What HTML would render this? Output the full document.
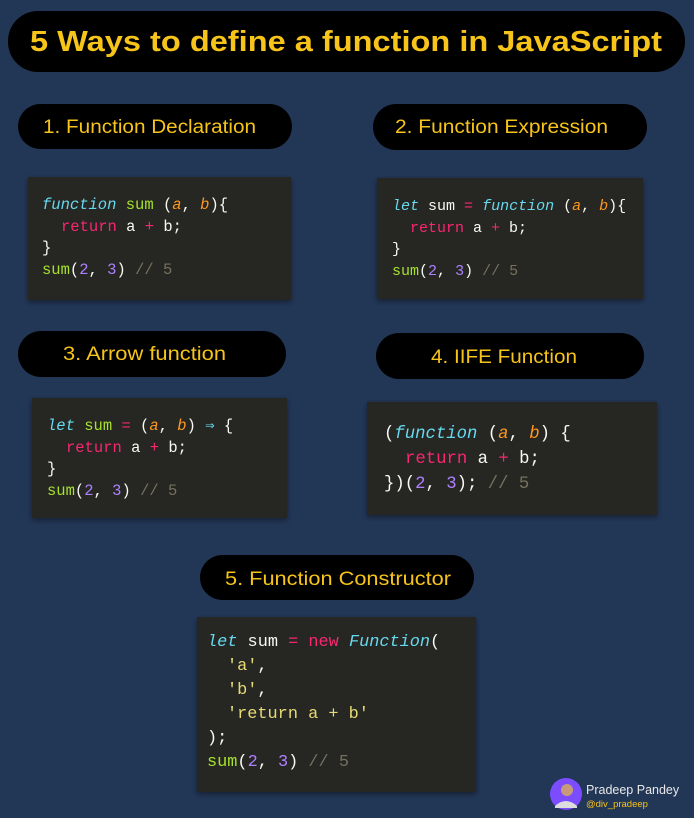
<!DOCTYPE html>
<html><head><meta charset="utf-8"><style>
html,body{margin:0;padding:0;background:#223656;}
svg{display:block}
.m{font-family:"Liberation Mono",monospace;white-space:pre}
.w{fill:#f8f8f2}.c{fill:#66d9ef;font-style:italic}.g{fill:#a6e22e}.o{fill:#fd971f;font-style:italic}
.p{fill:#f92672}.v{fill:#ae81ff}.y{fill:#e6db74}.k{fill:#75715e}.cy{fill:#66d9ef}
.h{font-family:"Liberation Sans",sans-serif;fill:#f7c41a}
</style></head><body>
<svg width="694" height="818" viewBox="0 0 694 818" xmlns="http://www.w3.org/2000/svg" xml:space="preserve">
<defs><filter id="s" x="-10%" y="-10%" width="120%" height="130%"><feDropShadow dx="0" dy="2" stdDeviation="3" flood-color="#000" flood-opacity="0.45"/></filter></defs>
<rect width="694" height="818" fill="#223656"/>
<rect x="8" y="11" width="677" height="61" rx="30" fill="#000"/>
<text class="h" x="346" y="51" text-anchor="middle" font-size="29" font-weight="bold" textLength="632" lengthAdjust="spacingAndGlyphs">5 Ways to define a function in JavaScript</text>
<rect x="18" y="104" width="274" height="45" rx="22.5" fill="#000"/>
<text class="h" x="43" y="133" font-size="19" textLength="213" lengthAdjust="spacingAndGlyphs">1. Function Declaration</text>
<rect x="373" y="104" width="274" height="46" rx="23" fill="#000"/>
<text class="h" x="395" y="133" font-size="19" textLength="213" lengthAdjust="spacingAndGlyphs">2. Function Expression</text>
<rect x="18" y="331" width="268" height="46" rx="23" fill="#000"/>
<text class="h" x="63" y="360" font-size="19" textLength="163" lengthAdjust="spacingAndGlyphs">3. Arrow function</text>
<rect x="376" y="333" width="268" height="46" rx="23" fill="#000"/>
<text class="h" x="431" y="363" font-size="19" textLength="146" lengthAdjust="spacingAndGlyphs">4. IIFE Function</text>
<rect x="200" y="555" width="274" height="45" rx="22.5" fill="#000"/>
<text class="h" x="225" y="585" font-size="19" textLength="226" lengthAdjust="spacingAndGlyphs">5. Function Constructor</text>
<rect x="28" y="177" width="263" height="123" fill="#272822" filter="url(#s)"/>
<g class="m" font-size="15.5">
<text x="42" y="209"><tspan class="c">function</tspan><tspan class="w"> </tspan><tspan class="g">sum</tspan><tspan class="w"> (</tspan><tspan class="o">a</tspan><tspan class="w">, </tspan><tspan class="o">b</tspan><tspan class="w">){</tspan></text>
<text x="61" y="231"><tspan class="p">return</tspan><tspan class="w"> a </tspan><tspan class="p">+</tspan><tspan class="w"> b;</tspan></text>
<text x="42" y="252" class="w">}</text>
<text x="42" y="274"><tspan class="g">sum</tspan><tspan class="w">(</tspan><tspan class="v">2</tspan><tspan class="w">, </tspan><tspan class="v">3</tspan><tspan class="w">) </tspan><tspan class="k">// 5</tspan></text>
</g>
<rect x="377" y="178" width="266" height="121" fill="#272822" filter="url(#s)"/>
<g class="m" font-size="15">
<text x="392" y="210"><tspan class="c">let</tspan><tspan class="w"> sum </tspan><tspan class="p">=</tspan><tspan class="w"> </tspan><tspan class="c">function</tspan><tspan class="w"> (</tspan><tspan class="o">a</tspan><tspan class="w">, </tspan><tspan class="o">b</tspan><tspan class="w">){</tspan></text>
<text x="410" y="232"><tspan class="p">return</tspan><tspan class="w"> a </tspan><tspan class="p">+</tspan><tspan class="w"> b;</tspan></text>
<text x="392" y="253" class="w">}</text>
<text x="392" y="275"><tspan class="g">sum</tspan><tspan class="w">(</tspan><tspan class="v">2</tspan><tspan class="w">, </tspan><tspan class="v">3</tspan><tspan class="w">) </tspan><tspan class="k">// 5</tspan></text>
</g>
<rect x="32" y="398" width="255" height="120" fill="#272822" filter="url(#s)"/>
<g class="m" font-size="15.5">
<text x="47" y="430"><tspan class="c">let</tspan><tspan class="w"> </tspan><tspan class="g">sum</tspan><tspan class="w"> </tspan><tspan class="p">=</tspan><tspan class="w"> (</tspan><tspan class="o">a</tspan><tspan class="w">, </tspan><tspan class="o">b</tspan><tspan class="w">) </tspan><tspan class="cy">⇒</tspan><tspan class="w"> {</tspan></text>
<text x="66" y="452"><tspan class="p">return</tspan><tspan class="w"> a </tspan><tspan class="p">+</tspan><tspan class="w"> b;</tspan></text>
<text x="47" y="473" class="w">}</text>
<text x="47" y="495"><tspan class="g">sum</tspan><tspan class="w">(</tspan><tspan class="v">2</tspan><tspan class="w">, </tspan><tspan class="v">3</tspan><tspan class="w">) </tspan><tspan class="k">// 5</tspan></text>
</g>
<rect x="367" y="402" width="290" height="113" fill="#272822" filter="url(#s)"/>
<g class="m" font-size="17.3">
<text x="384" y="438"><tspan class="w">(</tspan><tspan class="c">function</tspan><tspan class="w"> (</tspan><tspan class="o">a</tspan><tspan class="w">, </tspan><tspan class="o">b</tspan><tspan class="w">) {</tspan></text>
<text x="405" y="463"><tspan class="p">return</tspan><tspan class="w"> a </tspan><tspan class="p">+</tspan><tspan class="w"> b;</tspan></text>
<text x="384" y="488"><tspan class="w">})(</tspan><tspan class="v">2</tspan><tspan class="w">, </tspan><tspan class="v">3</tspan><tspan class="w">); </tspan><tspan class="k">// 5</tspan></text>
</g>
<rect x="197" y="617" width="279" height="175" fill="#272822" filter="url(#s)"/>
<g class="m" font-size="16.9">
<text x="207" y="646"><tspan class="c">let</tspan><tspan class="w"> sum </tspan><tspan class="p">=</tspan><tspan class="w"> </tspan><tspan class="p">new</tspan><tspan class="w"> </tspan><tspan class="c">Function</tspan><tspan class="w">(</tspan></text>
<text x="227" y="670"><tspan class="y">'a'</tspan><tspan class="w">,</tspan></text>
<text x="227" y="694"><tspan class="y">'b'</tspan><tspan class="w">,</tspan></text>
<text x="227" y="718"><tspan class="y">'return a + b'</tspan></text>
<text x="207" y="742" class="w">);</text>
<text x="207" y="766"><tspan class="g">sum</tspan><tspan class="w">(</tspan><tspan class="v">2</tspan><tspan class="w">, </tspan><tspan class="v">3</tspan><tspan class="w">) </tspan><tspan class="k">// 5</tspan></text>
</g>
<circle cx="566" cy="794" r="16" fill="#7c4dff"/>
<circle cx="567" cy="790" r="6" fill="#c99a7a"/>
<path d="M555 806 Q566 796 577 806 L577 808 L555 808Z" fill="#ddd"/>
<text x="586" y="794" font-family="Liberation Sans,sans-serif" font-size="12.5" fill="#e8e8e8">Pradeep Pandey</text>
<text x="586" y="807" font-family="Liberation Sans,sans-serif" font-size="9.5" fill="#f7c41a">@div_pradeep</text>
</svg>
</body></html>
